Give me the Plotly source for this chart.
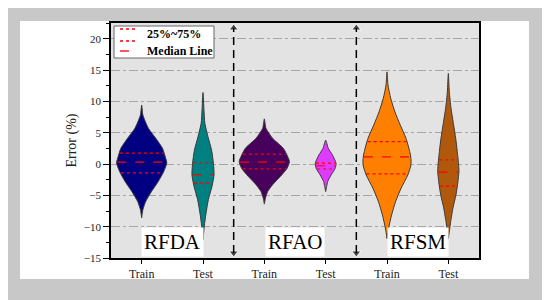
import numpy as np
import plotly.graph_objects as go

# x-axis categories and model groups
categories = ["Train", "Test", "Train", "Test", "Train", "Test"]
groups = ["RFDA", "RFAO", "RFSM"]
colors = ["#000080", "#008080", "#47005c", "#df3bff", "#ff8000", "#b0580c"]

# violin outlines: error value -> half width (category units)
prof_y = [
    [9.4, 8.6, 7.8, 5.7, 4.1, 2.5, 0.96, 0.2, -1.2, -2.8, -4.4, -6.0, -7.3, -8.6],
    [11.4, 8.6, 6.5, 4.4, 2.2, 0.1, -1.74, -3.6, -5.7, -7.8, -10.0, -12.1],
    [7.2, 5.7, 4.1, 2.5, 1.2, 0.4, -0.7, -2.0, -3.3, -4.4, -5.4, -6.4],
    [3.8, 2.5, 1.45, 0.1, -0.7, -1.74, -2.8, -3.6, -4.4],
    [14.7, 12.6, 10.5, 8.3, 6.2, 4.1, 2.0, 0.9, -0.17, -1.74, -3.85, -6.0, -8.1, -10.2, -11.9],
    [14.45, 11.5, 8.9, 6.2, 4.1, 2.0, -0.17, -1.2, -2.8, -4.9, -7.0, -9.2, -10.8, -11.9],
]
prof_w = [
    [0, 0.01, 0.02, 0.11, 0.23, 0.34, 0.39, 0.41, 0.36, 0.27, 0.16, 0.065, 0.02, 0],
    [0, 0.016, 0.03, 0.08, 0.14, 0.17, 0.18, 0.146, 0.087, 0.05, 0.02, 0],
    [0, 0.027, 0.135, 0.31, 0.38, 0.41, 0.37, 0.26, 0.135, 0.054, 0.02, 0],
    [0, 0.043, 0.11, 0.17, 0.155, 0.09, 0.033, 0.016, 0],
    [0, 0.016, 0.06, 0.13, 0.217, 0.31, 0.37, 0.39, 0.39, 0.34, 0.23, 0.14, 0.076, 0.027, 0],
    [0, 0.016, 0.044, 0.087, 0.12, 0.146, 0.168, 0.173, 0.157, 0.125, 0.076, 0.038, 0.016, 0],
]

# quartiles and medians
q1 = [-1.42, -3.06, -0.78, -0.8, -1.58, -3.54]
median = [0.29, -1.69, 0.29, -0.28, 1.13, -1.3]
q3 = [1.72, 0.2, 1.56, 0.15, 3.57, 0.65]

# page body has an 8px margin, so figure pixels = page pixels - 8
OFF = 8
W, H = 550, 300
L, R, T, B = 103, 79, 15, 50
pw, ph = W - L - R, H - T - B


def px(x):
    return (x - OFF - L) / pw


def py(y):
    return (H - B - (y - OFF)) / ph


serif = "Liberation Serif"
fig = go.Figure()

for i in range(6):
    ys = np.array(prof_y[i])
    ws = np.array(prof_w[i])
    xs = np.concatenate([i + ws, (i - ws)[::-1]])
    yy = np.concatenate([ys, ys[::-1]])
    fig.add_trace(go.Scatter(x=xs, y=yy, mode="lines", fill="toself",
                             fillcolor=colors[i], line=dict(color="#3a3a3a", width=1, shape="spline", smoothing=0.6),
                             showlegend=False, hoverinfo="skip"))
    # quartile and median lines clipped to the violin width
    for val, dash in [(q1[i], "dot"), (q3[i], "dot"), (median[i], "dash")]:
        hw = np.interp(val, ys[::-1], ws[::-1]) - 0.01
        fig.add_trace(go.Scatter(x=[i - hw, i + hw], y=[val, val], mode="lines",
                                 line=dict(color="#ff0000", width=1.2, dash=dash),
                                 showlegend=False, hoverinfo="skip"))

# white panel framing the plot area (four strips so the plot background stays grey)
shapes = []
frame = [(20, 529, 279, 258), (20, 529, 23, 21), (20, 111, 279, 21), (479, 529, 279, 21)]
for x0, x1, y0, y1 in frame:
    shapes.append(dict(type="rect", xref="paper", yref="paper", x0=px(x0), x1=px(x1), y0=py(y0), y1=py(y1),
                       fillcolor="white", line_width=0, layer="below"))

# dashed separators between model groups
for xs in [1.5, 3.5]:
    shapes.append(dict(type="line", xref="x", yref="y", x0=xs, x1=xs, y0=-14.2, y1=21.7,
                       line=dict(color="black", width=1.5, dash="8px,5px")))
    fig.add_trace(go.Scatter(x=[xs, xs], y=[21.7, -14.2], mode="markers",
                             marker=dict(symbol=["triangle-up", "triangle-down"], size=[8, 8], color="black"),
                             showlegend=False, hoverinfo="skip"))

# legend box drawn by hand
shapes.append(dict(type="rect", xref="paper", yref="paper", x0=px(114), x1=px(214), y0=py(58), y1=py(26),
                   fillcolor="white", line=dict(color="#666666", width=1)))
for yl, dash in [(29, "dot"), (41, "dot"), (51, "dash")]:
    shapes.append(dict(type="line", xref="paper", yref="paper", x0=px(120), x1=px(137), y0=py(yl), y1=py(yl),
                       line=dict(color="#ff0000", width=1.3, dash=dash)))

annotations = [
    dict(xref="paper", yref="paper", x=px(145), y=py(34), text="<b>25%~75%</b>", showarrow=False,
         xanchor="left", yanchor="middle", font=dict(family=serif, size=12, color="black")),
    dict(xref="paper", yref="paper", x=px(145), y=py(51), text="<b>Median Line</b>", showarrow=False,
         xanchor="left", yanchor="middle", font=dict(family=serif, size=12, color="black")),
]
for g, name in enumerate(groups):
    annotations.append(dict(x=2 * g + 0.5, y=-15, xref="x", yref="y", text=name, showarrow=False,
                            xanchor="center", yanchor="bottom", bgcolor="white", borderpad=2, yshift=1,
                            font=dict(family=serif, size=21, color="black")))

fig.update_layout(
    width=W, height=H,
    margin=dict(l=L, r=R, t=T, b=B),
    paper_bgcolor="#c8c8c8",
    plot_bgcolor="#e3e3e3",
    shapes=shapes,
    annotations=annotations,
    xaxis=dict(range=[-0.5, 5.5], tickvals=list(range(6)), ticktext=categories,
               ticks="outside", ticklen=4, tickcolor="black", showgrid=False, zeroline=False,
               showline=True, linecolor="black", linewidth=1.5, mirror=True,
               tickfont=dict(family=serif, size=12, color="#222")),
    yaxis=dict(range=[-15, 22.5], tickvals=[-15, -10, -5, 0, 5, 10, 15, 20],
               ticks="outside", ticklen=6, tickcolor="black",
               minor=dict(dtick=2.5, tick0=0, ticks="outside", ticklen=3, tickcolor="black", showgrid=False),
               showgrid=True, gridcolor="#a6a6a6", griddash="dashdot", gridwidth=0.8, zeroline=False,
               showline=True, linecolor="black", linewidth=1.5, mirror=True,
               tickfont=dict(family=serif, size=11, color="#222"),
               title=dict(text="Error (%)", font=dict(family=serif, size=14, color="#222"), standoff=4)),
)

fig.write_html("out.html")
